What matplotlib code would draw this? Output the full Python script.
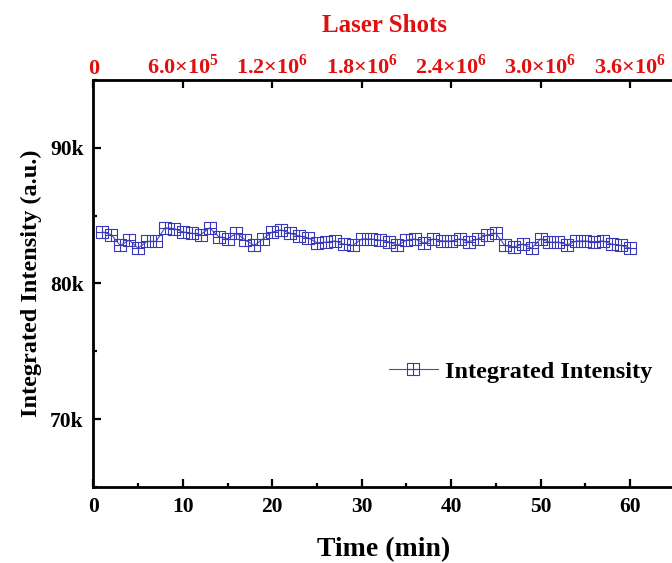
import numpy as np
import matplotlib
matplotlib.use("Agg")
import matplotlib.pyplot as plt
from matplotlib.path import Path
from matplotlib.ticker import FuncFormatter, MultipleLocator, FixedLocator

plt.rcParams['font.family'] = ['Liberation Serif', 'DejaVu Serif']
plt.rcParams['font.weight'] = 'bold'
plt.rcParams['mathtext.fontset'] = 'custom'
plt.rcParams['mathtext.rm'] = 'Liberation Serif:bold'
plt.rcParams['mathtext.bf'] = 'Liberation Serif:bold'

# Mesure toutes les minutes pendant une heure
time_min = list(range(1, 61))
intensity = [
    83.8, 83.6, 82.8, 83.2, 82.6, 83.1, 83.1, 84.1, 84.05, 83.8,
    83.7, 83.6, 84.1, 83.45, 83.3, 83.7, 83.2, 82.8, 83.3, 83.8,
    83.95, 83.7, 83.5, 83.37, 83.0, 83.04, 83.13, 82.9, 82.8, 83.28,
    83.28, 83.2, 83.08, 82.8, 83.2, 83.28, 82.96, 83.28, 83.13, 83.13,
    83.28, 83.08, 83.28, 83.57, 83.7, 82.8, 82.7, 82.9, 82.6, 83.28,
    83.04, 83.04, 82.85, 83.13, 83.13, 83.08, 83.13, 82.89, 82.8, 82.6,
]
intensity = [v * 1000 for v in intensity]

shots_per_min = 60000
shot_ticks = [0, 6.0e5, 1.2e6, 1.8e6, 2.4e6, 3.0e6, 3.6e6]
shot_labels = ['0', '6.0×10$^{5}$', '1.2×10$^{6}$', '1.8×10$^{6}$',
               '2.4×10$^{6}$', '3.0×10$^{6}$', '3.6×10$^{6}$']

# Marqueur carré barré d'une croix
box_cross = Path(
    [(-1, -1), (1, -1), (1, 1), (-1, 1), (-1, -1), (0, -1), (0, 1), (-1, 0), (1, 0)],
    [Path.MOVETO, Path.LINETO, Path.LINETO, Path.LINETO, Path.CLOSEPOLY,
     Path.MOVETO, Path.LINETO, Path.MOVETO, Path.LINETO],
)

fig = plt.figure(figsize=(6.72, 5.63), dpi=100)
ax = fig.add_axes([0.139, 0.135, 0.865, 0.723])

ax.plot(time_min, intensity, color='#4a4ac0', lw=0.8, marker=box_cross,
        markersize=8.5, mfc='none', mec='#3838b8', mew=0.8,
        label='Integrated Intensity')

ax.set_xlim(0, 65)
ax.set_ylim(65000, 95000)
ax.xaxis.set_major_locator(MultipleLocator(10))
ax.xaxis.set_minor_locator(MultipleLocator(5))
ax.yaxis.set_major_locator(FixedLocator([70000, 80000, 90000]))
ax.yaxis.set_minor_locator(MultipleLocator(5000))
ax.yaxis.set_major_formatter(FuncFormatter(lambda v, p: f'{int(v / 1000)}k'))

ax.tick_params(which='both', direction='in', top=False, right=False,
               labelsize=15.5, width=1.6, pad=7)
ax.tick_params(which='major', length=6)
ax.tick_params(which='minor', length=3)
for s in ax.spines.values():
    s.set_linewidth(2)

ax.set_xlabel('Time (min)', fontsize=20, fontweight='bold', labelpad=15)
ax.set_ylabel('Integrated Intensity (a.u.)', fontsize=17.5, fontweight='bold', labelpad=6)

# Axe secondaire : nombre de tirs laser
ax2 = ax.twiny()
ax2.set_xlim(0, 65 * shots_per_min)
ax2.set_xticks(shot_ticks)
ax2.set_xticklabels(shot_labels)
ax2.tick_params(axis='x', direction='in', length=6, width=1.6, pad=1,
                labelsize=16, labelcolor='#e01010')
ax2.set_xlabel('Laser Shots', fontsize=18, fontweight='bold', color='#e01010', labelpad=16)

ax.legend(loc='center', bbox_to_anchor=(0.735, 0.283), frameon=False,
          prop={'size': 17.5, 'weight': 'bold'}, handlelength=2.0, handletextpad=0.3)

fig.savefig('out.png', dpi=100)
